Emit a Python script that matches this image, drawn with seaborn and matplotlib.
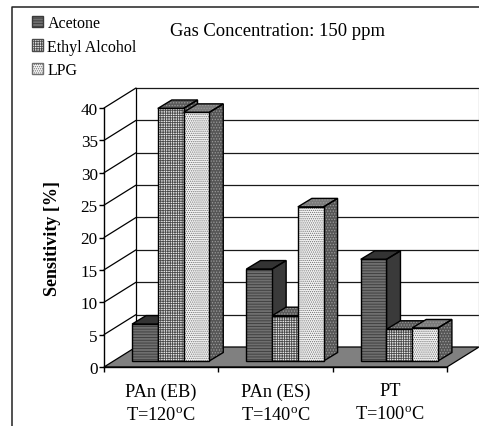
import numpy as np
import pandas as pd
import matplotlib
matplotlib.use("Agg")
import matplotlib.pyplot as plt
from matplotlib.lines import Line2D
from matplotlib.patches import Polygon, Rectangle, Patch
import seaborn as sns

categories = ["PAn (EB)", "PAn (ES)", "PT"]
tick_labels = ["PAn (EB)\nT=120$^{\\mathrm{o}}$C", "PAn (ES)\nT=140$^{\\mathrm{o}}$C", "PT\nT=100$^{\\mathrm{o}}$C"]
acetone = [5.7, 14.2, 15.7]
ethyl = [39.0, 7.0, 4.9]
lpg = [38.4, 23.8, 5.1]
gases = ["Acetone", "Ethyl Alcohol", "LPG"]

df = pd.DataFrame({"cat": categories * 3,
                   "gas": np.repeat(gases, 3),
                   "val": acetone + ethyl + lpg})

sns.set_theme(style="white")
plt.rcParams["font.family"] = ["Liberation Serif", "DejaVu Serif"]
plt.rcParams["mathtext.fontset"] = "custom"
plt.rcParams["mathtext.rm"] = "Liberation Serif"
plt.rcParams["hatch.linewidth"] = 0.6

W, H = 479, 427
fig = plt.figure(figsize=(W / 100, H / 100), dpi=100, facecolor="white")
L, R, T, B = 104, 447, 109, 368
ax = fig.add_axes([L / W, 1 - B / H, (R - L) / W, (B - T) / H], facecolor="none")

# page frame: left and top edges only
fig.add_artist(Line2D([11.5 / W, 11.5 / W, 1], [0, 1 - 8 / H, 1 - 8 / H], transform=fig.transFigure,
                      color="#222222", lw=1.1))

style = {"Acetone": dict(face="#6f6f6f", hatch="------", hc="#3a3a3a",
                         top="#333333", top_h="", side="#3a3a3a", side_h=""),
         "Ethyl Alcohol": dict(face="#e8e8e8", hatch="+++++++", hc="#4a4a4a",
                               top="#5a5a5a", top_h="......", side="#505050", side_h="......"),
         "LPG": dict(face="#f4f4f4", hatch="........", hc="#707070",
                     top="#7a7a7a", top_h="......", side="#555555", side_h="......")}
depth_x, depth_y = 32 / 114.33, 20 / 6.475
bar_dx, bar_dy = 14 / 114.33, 8.5 / 6.475
shift_x, shift_y = 9.5 / 114.33, 6 / 6.475

sns.barplot(data=df, x="cat", y="val", hue="gas", hue_order=gases, order=categories, width=0.675,
            gap=0, dodge=True, legend=False, ax=ax, saturation=1, bottom=shift_y,
            palette=[style[g]["face"] for g in gases])

ax.set_xlim(-0.5, 2.5)
ax.set_ylim(0, 40)

# walls and floor
ax.add_patch(Polygon([(-0.5, 0), (2.5, 0), (2.5 + depth_x, depth_y), (-0.5 + depth_x, depth_y)],
                     fc="#808080", ec="black", lw=0.9, clip_on=False, zorder=0))
yt = np.arange(0, 45, 5)
for v in yt[1:]:
    ax.plot([-0.5 + depth_x, 2.5 + depth_x], [v + depth_y] * 2, color="#1a1a1a", lw=0.9, clip_on=False, zorder=0)
    ax.plot([-0.5, -0.5 + depth_x], [v, v + depth_y], color="black", lw=0.9, clip_on=False, zorder=0)
ax.plot([-0.5 + depth_x] * 2, [depth_y, 40 + depth_y], color="black", lw=0.9, clip_on=False, zorder=0)
ax.plot([2.5 + depth_x - 0.003] * 2, [depth_y, 40 + depth_y], color="#999999", lw=0.9, clip_on=False, zorder=0)


def face(pts, fc, hatch, z):
    ax.add_patch(Polygon(pts, fc=fc, ec="#9a9a9a", hatch=hatch, lw=0, clip_on=False, zorder=z))
    ax.add_patch(Polygon(pts, fill=False, ec="black", lw=1, clip_on=False, zorder=z + 0.0005))


for container, gas in zip(ax.containers, gases):
    s = style[gas]
    for bar in container:
        bar.set_x(bar.get_x() + shift_x)
        x, y, w, h = bar.get_x(), bar.get_y(), bar.get_width(), bar.get_height()
        bar.set_hatch(s["hatch"])
        bar.set_edgecolor(s["hc"])
        bar.set_linewidth(0)
        z = 3 + 0.01 * x
        bar.set_zorder(z)
        face([(x + w, y), (x + w + bar_dx, y + bar_dy), (x + w + bar_dx, y + h + bar_dy), (x + w, y + h)],
             s["side"], s["side_h"], z - 0.002)
        face([(x, y + h), (x + bar_dx, y + h + bar_dy), (x + w + bar_dx, y + h + bar_dy), (x + w, y + h)],
             s["top"], s["top_h"], z - 0.002)
        ax.add_patch(Rectangle((x, y), w, h, fill=False, ec="black", lw=1, clip_on=False, zorder=z + 0.001))

for s in ("top", "right"):
    ax.spines[s].set_visible(False)
for s in ("left", "bottom"):
    ax.spines[s].set_color("black")
    ax.spines[s].set_linewidth(1)
ax.set_yticks(yt)
ax.set_yticklabels([str(v) for v in yt], fontsize=12.3, color="black")
ax.set_xticks([-0.5, 0.5, 1.5, 2.5])
ax.set_xticklabels([])
ax.tick_params(axis="both", length=3.5, width=1, color="black", left=True, bottom=True, pad=1)
for i, lab in enumerate(tick_labels):
    ax.annotate(lab, (i, 0), xytext=(0, -11), textcoords="offset points", ha="center", va="top",
                fontsize=13.2, color="black", linespacing=1.5, annotation_clip=False)
ax.set_xlabel("")
ax.set_ylabel("Sensitivity [%]", fontsize=13, fontweight="bold", color="black", labelpad=14)

fig.text(278 / W, 1 - 32 / H, "Gas Concentration: 150 ppm", fontsize=13.4, color="black", ha="center", va="center")

handles = [Patch(facecolor=style[g]["face"], edgecolor=style[g]["hc"], hatch=style[g]["hatch"], lw=1) for g in gases]
leg = fig.legend(handles, gases, loc="upper left", bbox_to_anchor=(32 / W, 1 - 16 / H), frameon=False,
                 fontsize=11.5, handlelength=0.72, handleheight=0.7, handletextpad=0.25, labelspacing=0.48,
                 borderpad=0, borderaxespad=0, labelcolor="black")
fig.savefig("out.png", dpi=100)
